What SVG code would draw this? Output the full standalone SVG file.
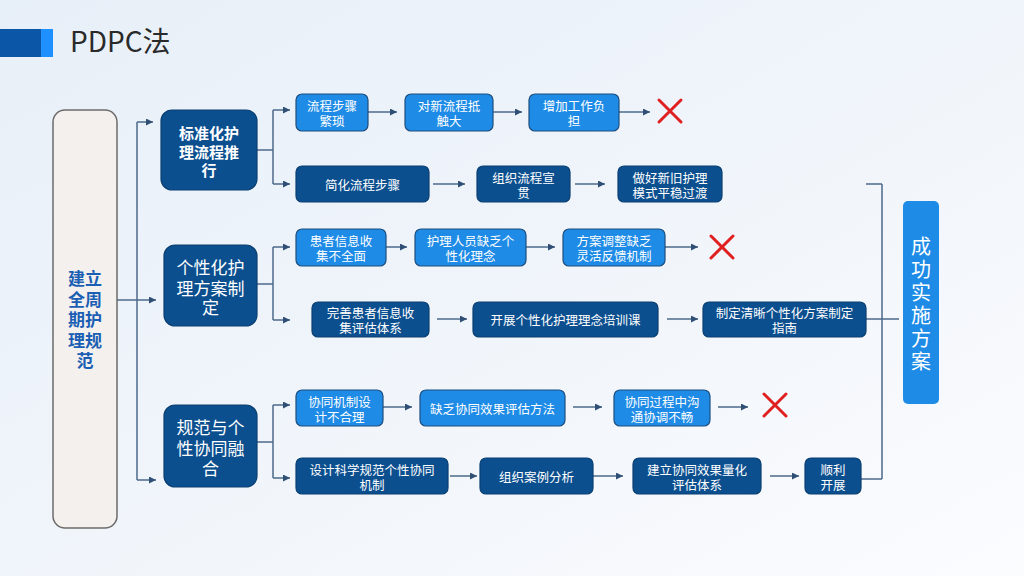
<svg xmlns="http://www.w3.org/2000/svg" width="1024" height="576" viewBox="0 0 1024 576">
<defs>
<linearGradient id="bg" x1="0" y1="0" x2="1" y2="1">
<stop offset="0" stop-color="#e7eff8"/>
<stop offset="0.6" stop-color="#f2f6fb"/>
<stop offset="1" stop-color="#fbfcfe"/>
</linearGradient>
<marker id="ah" markerUnits="userSpaceOnUse" markerWidth="8" markerHeight="7" refX="7" refY="3.5" orient="auto">
<path d="M0,0 L7,3.5 L0,7 z" fill="#2f4f75"/>
</marker>
<style>
.t{font-family:"Noto Sans CJK SC","Noto Sans",sans-serif;text-anchor:middle;dominant-baseline:central;fill:#fff}
.s{font-size:12.5px}
.lb{fill:#1e8be6;stroke:#1d4e7e;stroke-width:1.2}
.db{fill:#0c4f8f;stroke:#0a3f72;stroke-width:1.2}
.c{fill:none;stroke:#4d6a8a;stroke-width:1.5}
.a{marker-end:url(#ah)}
.x{stroke:#e02020;stroke-width:3;stroke-linecap:round}
</style>
</defs>
<rect width="1024" height="576" fill="url(#bg)"/>
<g id="title">
<rect x="0" y="29" width="41" height="28" fill="#0b56a6"/>
<rect x="41" y="29" width="12" height="28" fill="#1e90ff"/>
<text x="70" y="52" font-family="'Noto Sans CJK SC','Noto Sans',sans-serif" font-size="28" fill="#2a2a2a">PDPC法</text>
</g>
<g id="connectors">
<path class="c" d="M117,300 H137 M137,122 V480 M273,110 V184 M257,150 H273 M273,247 V320 M257,284 H273 M273,405 V478 M257,442 H273 M866,184 H882 M882,184 V479 M866,319 H899 M861,479 H882"/>
<path class="c a" d="M137,122 H153"/>
<path class="c a" d="M137,300 H156"/>
<path class="c a" d="M137,480 H156"/>
<path class="c a" d="M273,110 H290"/>
<path class="c a" d="M273,184 H290"/>
<path class="c a" d="M273,247 H290"/>
<path class="c a" d="M273,320 H290"/>
<path class="c a" d="M273,405 H290"/>
<path class="c a" d="M273,478 H290"/>
<path class="c a" d="M368,112 H397"/>
<path class="c a" d="M493,112 H522"/>
<path class="c a" d="M619,112 H650"/>
<path class="c a" d="M433,184 H465"/>
<path class="c a" d="M575,184 H605"/>
<path class="c a" d="M386,247 H407"/>
<path class="c a" d="M526,247 H555"/>
<path class="c a" d="M665,247 H698"/>
<path class="c a" d="M437,319 H467"/>
<path class="c a" d="M667,319 H698"/>
<path class="c a" d="M383,407 H412"/>
<path class="c a" d="M573,407 H602"/>
<path class="c a" d="M718,407 H748"/>
<path class="c a" d="M450,476 H477"/>
<path class="c a" d="M593,476 H623"/>
<path class="c a" d="M770,476 H799"/>
</g>
<g id="root">
<rect x="53" y="110" width="64" height="418" rx="12" fill="#f4f0ed" stroke="#6b6b6b" stroke-width="1.5"/>
<text class="t" x="85" font-size="17" font-weight="bold" style="fill:#1a5fb4"><tspan x="85" y="277">建立</tspan><tspan x="85" y="297.5">全周</tspan><tspan x="85" y="318">期护</tspan><tspan x="85" y="338.5">理规</tspan><tspan x="85" y="359">范</tspan></text>
</g>
<g id="b1">
<rect class="db" x="161" y="110" width="96" height="80" rx="11"/>
<text class="t" font-size="15" font-weight="bold"><tspan x="209" y="132">标准化护</tspan><tspan x="209" y="150.5">理流程推</tspan><tspan x="209" y="169">行</tspan></text>
</g>
<g id="b2">
<rect class="db" x="164" y="245" width="93" height="81" rx="11"/>
<text class="t" font-size="17"><tspan x="210.5" y="266">个性化护</tspan><tspan x="210.5" y="286.5">理方案制</tspan><tspan x="210.5" y="306">定</tspan></text>
</g>
<g id="b3">
<rect class="db" x="164" y="405" width="93" height="82" rx="11"/>
<text class="t" font-size="17"><tspan x="210.5" y="426">规范与个</tspan><tspan x="210.5" y="446.5">性协同融</tspan><tspan x="210.5" y="467">合</tspan></text>
</g>
<g id="n11"><rect class="lb" x="296" y="94" width="72" height="37" rx="6"/><text class="t s"><tspan x="332" y="105">流程步骤</tspan><tspan x="332" y="120">繁琐</tspan></text></g>
<g id="n12"><rect class="lb" x="405" y="94" width="88" height="37" rx="6"/><text class="t s"><tspan x="449" y="105">对新流程抵</tspan><tspan x="449" y="120">触大</tspan></text></g>
<g id="n13"><rect class="lb" x="529" y="94" width="90" height="37" rx="6"/><text class="t s"><tspan x="574" y="105">增加工作负</tspan><tspan x="574" y="120">担</tspan></text></g>
<g id="x1"><path class="x" d="M659,100 L681,122 M681,100 L659,122"/></g>
<g id="n21"><rect class="db" x="296" y="166" width="133" height="36" rx="6"/><text class="t s" x="362.5" y="184">简化流程步骤</text></g>
<g id="n22"><rect class="db" x="477" y="166" width="93" height="36" rx="6"/><text class="t s"><tspan x="523.5" y="176.5">组织流程宣</tspan><tspan x="523.5" y="191.5">贯</tspan></text></g>
<g id="n23"><rect class="db" x="618" y="166" width="104" height="36" rx="6"/><text class="t s"><tspan x="670" y="176.5">做好新旧护理</tspan><tspan x="670" y="191.5">模式平稳过渡</tspan></text></g>
<g id="n31"><rect class="lb" x="296" y="229" width="90" height="37" rx="6"/><text class="t s"><tspan x="341" y="240">患者信息收</tspan><tspan x="341" y="255">集不全面</tspan></text></g>
<g id="n32"><rect class="lb" x="415" y="229" width="111" height="37" rx="6"/><text class="t s"><tspan x="470.5" y="240">护理人员缺乏个</tspan><tspan x="470.5" y="255">性化理念</tspan></text></g>
<g id="n33"><rect class="lb" x="563" y="229" width="102" height="37" rx="6"/><text class="t s"><tspan x="614" y="240">方案调整缺乏</tspan><tspan x="614" y="255">灵活反馈机制</tspan></text></g>
<g id="x2"><path class="x" d="M711,236 L733,258 M733,236 L711,258"/></g>
<g id="n41"><rect class="db" x="312" y="302" width="117" height="35" rx="6"/><text class="t s"><tspan x="370.5" y="312">完善患者信息收</tspan><tspan x="370.5" y="327">集评估体系</tspan></text></g>
<g id="n42"><rect class="db" x="473" y="302" width="185" height="35" rx="6"/><text class="t s" x="565.5" y="319.5">开展个性化护理理念培训课</text></g>
<g id="n43"><rect class="db" x="703" y="302" width="163" height="35" rx="6"/><text class="t s"><tspan x="784.5" y="312">制定清晰个性化方案制定</tspan><tspan x="784.5" y="327">指南</tspan></text></g>
<g id="n51"><rect class="lb" x="296" y="390" width="87" height="36" rx="6"/><text class="t s"><tspan x="339.5" y="400.5">协同机制设</tspan><tspan x="339.5" y="415.5">计不合理</tspan></text></g>
<g id="n52"><rect class="lb" x="420" y="390" width="145" height="36" rx="6"/><text class="t s" x="492.5" y="408">缺乏协同效果评估方法</text></g>
<g id="n53"><rect class="lb" x="614" y="390" width="96" height="36" rx="6"/><text class="t s"><tspan x="662" y="400.5">协同过程中沟</tspan><tspan x="662" y="415.5">通协调不畅</tspan></text></g>
<g id="x3"><path class="x" d="M764,394 L786,416 M786,394 L764,416"/></g>
<g id="n61"><rect class="db" x="296" y="458" width="152" height="36" rx="6"/><text class="t s"><tspan x="372" y="468.5">设计科学规范个性协同</tspan><tspan x="372" y="483.5">机制</tspan></text></g>
<g id="n62"><rect class="db" x="480" y="458" width="113" height="36" rx="6"/><text class="t s" x="536.5" y="476">组织案例分析</text></g>
<g id="n63"><rect class="db" x="633" y="458" width="128" height="36" rx="6"/><text class="t s"><tspan x="697" y="468.5">建立协同效果量化</tspan><tspan x="697" y="483.5">评估体系</tspan></text></g>
<g id="n64"><rect class="db" x="805" y="458" width="56" height="36" rx="6"/><text class="t s"><tspan x="833" y="468.5">顺利</tspan><tspan x="833" y="483.5">开展</tspan></text></g>
<g id="final">
<rect x="903" y="201" width="36" height="203" rx="5" fill="#1e8be6"/>
<text class="t" font-size="20"><tspan x="921" y="245">成</tspan><tspan x="921" y="268">功</tspan><tspan x="921" y="291">实</tspan><tspan x="921" y="314">施</tspan><tspan x="921" y="337">方</tspan><tspan x="921" y="360">案</tspan></text>
</g>
</svg>
